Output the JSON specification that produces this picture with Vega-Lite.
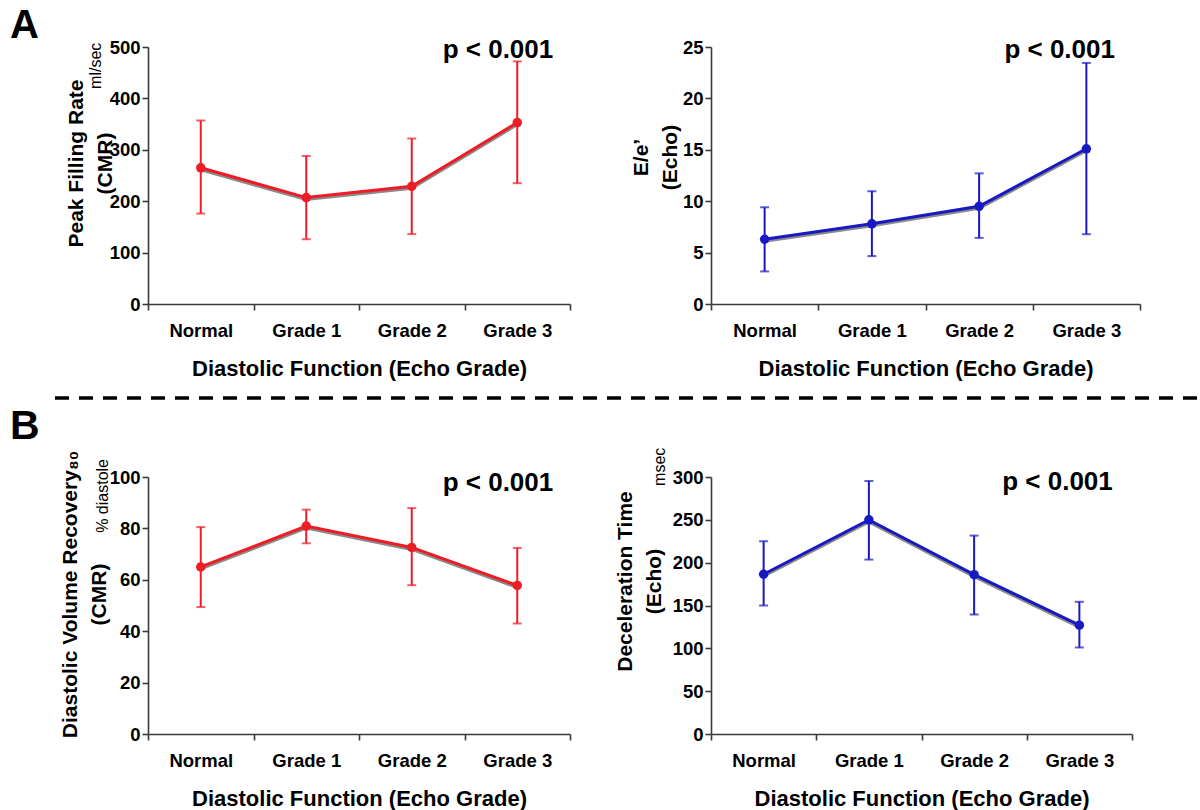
{
  "$schema": "https://vega.github.io/schema/vega-lite/v6.json",
  "padding": {"left": 10, "top": 5, "right": 0, "bottom": 5},
  "background": "white",
  "config": {
    "font": "Liberation Sans",
    "view": {"stroke": null},
    "axis": {
      "domainColor": "#3a3a3a", "domainWidth": 1.6, "tickColor": "#3a3a3a", "tickWidth": 1.6, "tickSize": 6,
      "labelFont": "Liberation Sans", "labelFontSize": 18.5, "labelFontWeight": "bold", "labelColor": "#000",
      "titleFont": "Liberation Sans", "titleFontWeight": "bold", "titleColor": "#000", "grid": false
    },
    "axisX": {"labelPadding": 11, "titleFontSize": 22, "titlePadding": 19, "labelAngle": 0, "tickBand": "extent"},
    "axisY": {"labelPadding": 2, "titleFontSize": 21, "titleLineHeight": 29}
  },
  "datasets": {
    "pfr": [
      {"grade": "Normal", "mean": 265, "lo": 176, "hi": 357},
      {"grade": "Grade 1", "mean": 207, "lo": 126, "hi": 288},
      {"grade": "Grade 2", "mean": 229, "lo": 136, "hi": 322},
      {"grade": "Grade 3", "mean": 353, "lo": 235, "hi": 472}
    ],
    "ee": [
      {"grade": "Normal", "mean": 6.3, "lo": 3.17, "hi": 9.41},
      {"grade": "Grade 1", "mean": 7.8, "lo": 4.66, "hi": 10.97},
      {"grade": "Grade 2", "mean": 9.5, "lo": 6.43, "hi": 12.71},
      {"grade": "Grade 3", "mean": 15.1, "lo": 6.79, "hi": 23.45}
    ],
    "dvr": [
      {"grade": "Normal", "mean": 65.0, "lo": 49.4, "hi": 80.5},
      {"grade": "Grade 1", "mean": 80.9, "lo": 74.2, "hi": 87.3},
      {"grade": "Grade 2", "mean": 72.6, "lo": 57.9, "hi": 87.9},
      {"grade": "Grade 3", "mean": 57.8, "lo": 43.0, "hi": 72.4}
    ],
    "dt": [
      {"grade": "Normal", "mean": 186.5, "lo": 150, "hi": 225},
      {"grade": "Grade 1", "mean": 250, "lo": 203.6, "hi": 295.3},
      {"grade": "Grade 2", "mean": 186, "lo": 139.5, "hi": 231.6},
      {"grade": "Grade 3", "mean": 127, "lo": 101, "hi": 154.3}
    ],
    "one": [{"k": 1}]
  },
  "columns": 2,
  "bounds": "flush",
  "spacing": {"row": 20, "column": 141},
  "concat": [
    {
      "width": 422, "height": 257,
      "data": {"name": "pfr"},
      "encoding": {
        "x": {"field": "grade", "type": "nominal", "scale": {"type": "band", "domain": ["Normal", "Grade 1", "Grade 2", "Grade 3"], "paddingInner": 0, "paddingOuter": 0}, "axis": {"title": "Diastolic Function (Echo Grade)"}},
        "y": {"field": "mean", "type": "quantitative", "scale": {"domain": [0, 500], "nice": false}, "axis": {"values": [0, 100, 200, 300, 400, 500], "title": ["Peak Filling Rate", "(CMR)"], "titlePadding": -6, "titleY": 116}}
      },
      "layer": [
        {"mark": {"type": "line", "color": "#8a8a8a", "strokeWidth": 3, "yOffset": 2}},
        {"mark": {"type": "errorbar", "color": "#ee1c25", "thickness": 2, "ticks": {"size": 9, "thickness": 2}}, "encoding": {"y": {"field": "lo", "type": "quantitative"}, "y2": {"field": "hi"}}},
        {"mark": {"type": "line", "color": "#ee1c25", "strokeWidth": 3}},
        {"mark": {"type": "circle", "color": "#ee1c25", "size": 90, "opacity": 1}},
        {"transform": [{"filter": "datum.grade === 'Grade 3'"}], "mark": {"type": "text", "fontSize": 26, "fontWeight": "bold", "align": "right", "baseline": "alphabetic", "xOffset": 36}, "encoding": {"y": {"datum": 478.6}, "text": {"value": "p < 0.001"}}},
        {"transform": [{"filter": "datum.grade === 'Normal'"}], "mark": {"type": "text", "fontSize": 16, "angle": 270, "align": "right", "baseline": "middle", "xOffset": -105, "yOffset": -4.3}, "encoding": {"y": {"datum": 500}, "text": {"value": "ml/sec"}}},
        {"transform": [{"filter": "datum.grade === 'Normal'"}], "mark": {"type": "text", "fontSize": 40, "fontWeight": "bold", "align": "left", "baseline": "alphabetic", "xOffset": -190.75, "yOffset": -9.3}, "encoding": {"y": {"datum": 500}, "text": {"value": "A"}}}
      ]
    },
    {
      "width": 429, "height": 257,
      "data": {"name": "ee"},
      "encoding": {
        "x": {"field": "grade", "type": "nominal", "scale": {"type": "band", "domain": ["Normal", "Grade 1", "Grade 2", "Grade 3"], "paddingInner": 0, "paddingOuter": 0}, "axis": {"title": "Diastolic Function (Echo Grade)"}},
        "y": {"field": "mean", "type": "quantitative", "scale": {"domain": [0, 25], "nice": false}, "axis": {"values": [0, 5, 10, 15, 20, 25], "title": ["E/e’", "(Echo)"], "titlePadding": 2, "titleY": 110}}
      },
      "layer": [
        {"mark": {"type": "line", "color": "#8a8a8a", "strokeWidth": 3, "yOffset": 2}},
        {"mark": {"type": "errorbar", "color": "#1919c3", "thickness": 2, "ticks": {"size": 9, "thickness": 2}}, "encoding": {"y": {"field": "lo", "type": "quantitative"}, "y2": {"field": "hi"}}},
        {"mark": {"type": "line", "color": "#1919c3", "strokeWidth": 3}},
        {"mark": {"type": "circle", "color": "#1919c3", "size": 90, "opacity": 1}},
        {"transform": [{"filter": "datum.grade === 'Grade 3'"}], "mark": {"type": "text", "fontSize": 26, "fontWeight": "bold", "align": "right", "baseline": "alphabetic", "xOffset": 28.6}, "encoding": {"y": {"datum": 23.93}, "text": {"value": "p < 0.001"}}}
      ]
    },
    {
      "width": 422, "height": 133,
      "data": {"name": "one"},
      "mark": {"type": "rule", "strokeDash": [14, 10], "strokeWidth": 3.5, "color": "#000"},
      "encoding": {
        "x": {"datum": -0.2204, "type": "quantitative", "scale": {"domain": [0, 1]}, "axis": null},
        "x2": {"datum": 2.4905},
        "y": {"datum": 0.4436, "type": "quantitative", "scale": {"domain": [0, 1]}, "axis": null}
      }
    },
    {
      "width": 429, "height": 133,
      "data": {"name": "one"},
      "mark": {"type": "rule", "opacity": 0},
      "encoding": {}
    },
    {
      "width": 422, "height": 257,
      "data": {"name": "dvr"},
      "encoding": {
        "x": {"field": "grade", "type": "nominal", "scale": {"type": "band", "domain": ["Normal", "Grade 1", "Grade 2", "Grade 3"], "paddingInner": 0, "paddingOuter": 0}, "axis": {"title": "Diastolic Function (Echo Grade)"}},
        "y": {"field": "mean", "type": "quantitative", "scale": {"domain": [0, 100], "nice": false}, "axis": {"values": [0, 20, 40, 60, 80, 100], "title": ["Diastolic Volume Recovery₈₀", "(CMR)"], "titlePadding": 0, "titleY": 117}}
      },
      "layer": [
        {"mark": {"type": "line", "color": "#8a8a8a", "strokeWidth": 3, "yOffset": 2}},
        {"mark": {"type": "errorbar", "color": "#ee1c25", "thickness": 2, "ticks": {"size": 9, "thickness": 2}}, "encoding": {"y": {"field": "lo", "type": "quantitative"}, "y2": {"field": "hi"}}},
        {"mark": {"type": "line", "color": "#ee1c25", "strokeWidth": 3}},
        {"mark": {"type": "circle", "color": "#ee1c25", "size": 90, "opacity": 1}},
        {"transform": [{"filter": "datum.grade === 'Grade 3'"}], "mark": {"type": "text", "fontSize": 26, "fontWeight": "bold", "align": "right", "baseline": "alphabetic", "xOffset": 36}, "encoding": {"y": {"datum": 94.6}, "text": {"value": "p < 0.001"}}},
        {"transform": [{"filter": "datum.grade === 'Normal'"}], "mark": {"type": "text", "fontSize": 16, "angle": 270, "align": "right", "baseline": "middle", "xOffset": -97.4, "yOffset": -18}, "encoding": {"y": {"datum": 100}, "text": {"value": "% diastole"}}},
        {"transform": [{"filter": "datum.grade === 'Normal'"}], "mark": {"type": "text", "fontSize": 41, "fontWeight": "bold", "align": "left", "baseline": "alphabetic", "xOffset": -190.75, "yOffset": -38}, "encoding": {"y": {"datum": 100}, "text": {"value": "B"}}}
      ]
    },
    {
      "width": 421, "height": 257,
      "data": {"name": "dt"},
      "encoding": {
        "x": {"field": "grade", "type": "nominal", "scale": {"type": "band", "domain": ["Normal", "Grade 1", "Grade 2", "Grade 3"], "paddingInner": 0, "paddingOuter": 0}, "axis": {"title": "Diastolic Function (Echo Grade)"}},
        "y": {"field": "mean", "type": "quantitative", "scale": {"domain": [0, 300], "nice": false}, "axis": {"values": [0, 50, 100, 150, 200, 250, 300], "title": ["Deceleration Time", "(Echo)"], "titlePadding": 8, "titleY": 104}}
      },
      "layer": [
        {"mark": {"type": "line", "color": "#8a8a8a", "strokeWidth": 3, "yOffset": 2}},
        {"mark": {"type": "errorbar", "color": "#1919c3", "thickness": 2, "ticks": {"size": 9, "thickness": 2}}, "encoding": {"y": {"field": "lo", "type": "quantitative"}, "y2": {"field": "hi"}}},
        {"mark": {"type": "line", "color": "#1919c3", "strokeWidth": 3}},
        {"mark": {"type": "circle", "color": "#1919c3", "size": 90, "opacity": 1}},
        {"transform": [{"filter": "datum.grade === 'Grade 3'"}], "mark": {"type": "text", "fontSize": 26, "fontWeight": "bold", "align": "right", "baseline": "alphabetic", "xOffset": 33.4}, "encoding": {"y": {"datum": 284.5}, "text": {"value": "p < 0.001"}}},
        {"transform": [{"filter": "datum.grade === 'Normal'"}], "mark": {"type": "text", "fontSize": 16, "angle": 270, "align": "right", "baseline": "middle", "xOffset": -103.3, "yOffset": -29.3}, "encoding": {"y": {"datum": 300}, "text": {"value": "msec"}}}
      ]
    }
  ]
}
